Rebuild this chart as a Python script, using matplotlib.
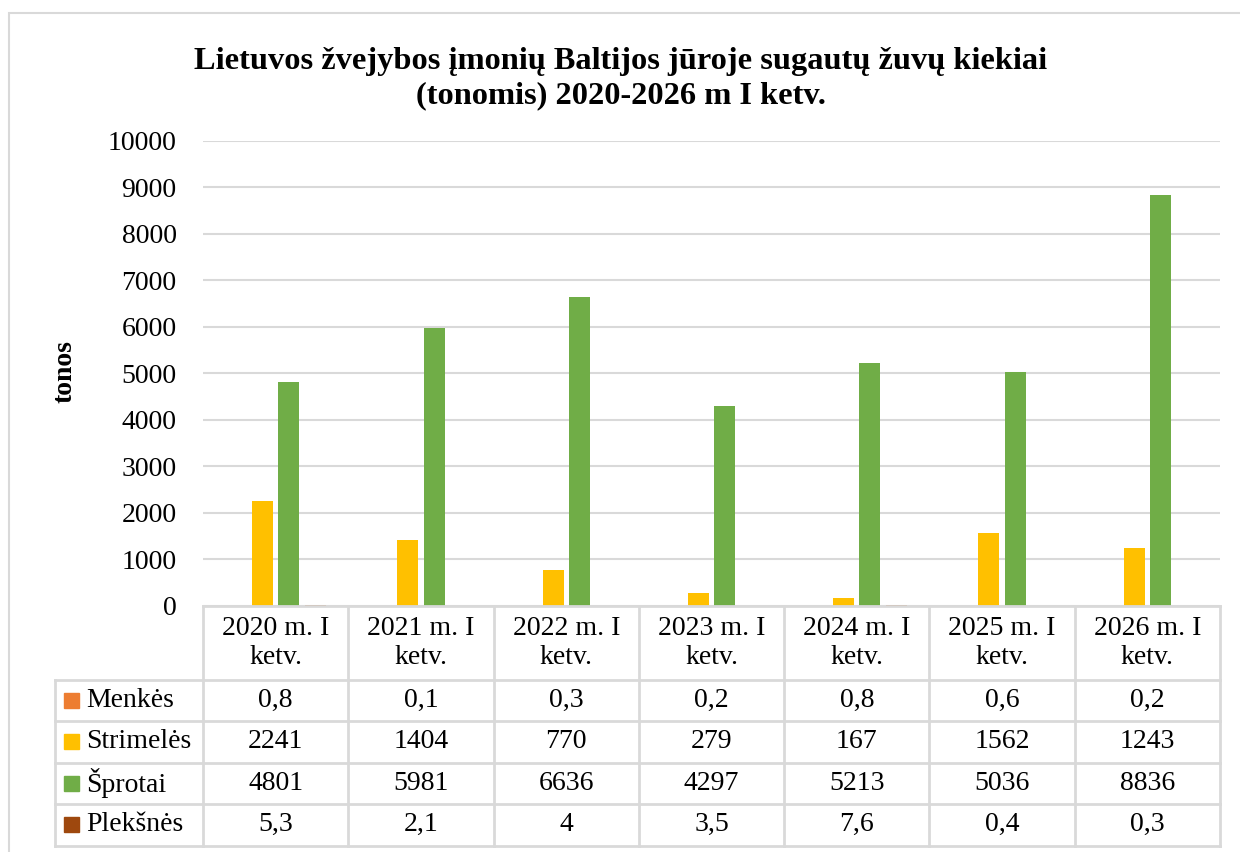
import matplotlib.pyplot as plt
from matplotlib.patches import Rectangle
import numpy as np

plt.rcParams['font.family'] = ['Liberation Serif', 'DejaVu Serif']

periods = ["2020 m. I\nketv.", "2021 m. I\nketv.", "2022 m. I\nketv.", "2023 m. I\nketv.",
           "2024 m. I\nketv.", "2025 m. I\nketv.", "2026 m. I\nketv."]
species = ["Menkės", "Strimelės", "Šprotai", "Plekšnės"]
menkes = [0.8, 0.1, 0.3, 0.2, 0.8, 0.6, 0.2]
strimeles = [2241, 1404, 770, 279, 167, 1562, 1243]
sprotai = [4801, 5981, 6636, 4297, 5213, 5036, 8836]
pleksnes = [5.3, 2.1, 4, 3.5, 7.6, 0.4, 0.3]
colors = ["#ED7D31", "#FFC000", "#70AD47", "#9E480E"]
series = [menkes, strimeles, sprotai, pleksnes]
title_lines = ["Lietuvos žvejybos įmonių Baltijos jūroje sugautų žuvų kiekiai",
               "(tonomis) 2020-2026 m I ketv."]

W, H = 1240, 852
fig = plt.figure(figsize=(W / 100, H / 100), dpi=100)

# pixel helpers
def fx(px):
    return px / W

def fy(py):
    return 1 - py / H

left, right, top, bottom = 203, 1220, 140.7, 605.7
ax = fig.add_axes([fx(left), fy(bottom), fx(right - left), (bottom - top) / H])

x = np.arange(len(periods))
bw = 0.1445
offsets = [-0.2715, -0.0905, 0.0905, 0.2715]
for vals, off, c, name in zip(series, offsets, colors, species):
    ax.bar(x + off, vals, bw, color=c, label=name, zorder=3)

ax.set_xlim(-0.5, len(periods) - 0.5)
ax.set_ylim(0, 10000)
ax.set_yticks(np.arange(0, 10001, 1000))
ax.tick_params(axis='y', length=0, pad=19, labelsize=20)
ax.set_xticks([])
ax.grid(axis='y', color='#D9D9D9', linewidth=1.5, zorder=0)
for s in ax.spines.values():
    s.set_visible(False)

fig.text(fx(65), fy(372), "tonos", rotation=90, fontsize=20, fontweight='bold',
         ha='center', va='center')
for line, yy in zip(title_lines, [61, 96]):
    fig.text(fx(621), fy(yy), line, fontsize=23.3, fontweight='bold',
             ha='center', va='center')

# outer chart frame
fig.patches.append(Rectangle((fx(9), fy(860)), fx(1250), (860 - 13) / H,
                             transform=fig.transFigure, fill=False,
                             edgecolor='#D9D9D9', linewidth=1.5, clip_on=False))

# data table under the plot
tax = fig.add_axes([0, 0, 1, 1])
tax.set_xlim(0, W)
tax.set_ylim(H, 0)
tax.axis('off')
lc = '#D9D9D9'
lw = 2
colw = (right - left) / len(periods)
head_top, head_bot = 606, 679.5
row_h = 41.5
leg_left = 54.5
rows_bot = head_bot + row_h * len(species)

tax.plot([left, right], [head_top, head_top], color=lc, lw=lw)
for i in range(len(species) + 1):
    yy = head_bot + i * row_h
    tax.plot([leg_left, right], [yy, yy], color=lc, lw=lw)
for j in range(len(periods) + 1):
    xx = left + j * colw
    tax.plot([xx, xx], [head_top, rows_bot], color=lc, lw=lw)
tax.plot([leg_left, leg_left], [head_bot, rows_bot], color=lc, lw=lw)

for j, p in enumerate(periods):
    tax.text(left + (j + 0.5) * colw, (head_top + head_bot) / 2, p, fontsize=20,
             ha='center', va='center', linespacing=1.2)


def fmt(v):
    return f"{v:g}".replace('.', ',')


for i, (name, vals, c) in enumerate(zip(species, series, colors)):
    yc = head_bot + (i + 0.5) * row_h
    tax.add_patch(Rectangle((64, yc - 7.5), 15, 15, color=c))
    tax.text(86, yc, name, fontsize=20, ha='left', va='center')
    for j, v in enumerate(vals):
        tax.text(left + (j + 0.5) * colw, yc, fmt(v), fontsize=20, ha='center', va='center')

fig.savefig("out.png", dpi=100)
